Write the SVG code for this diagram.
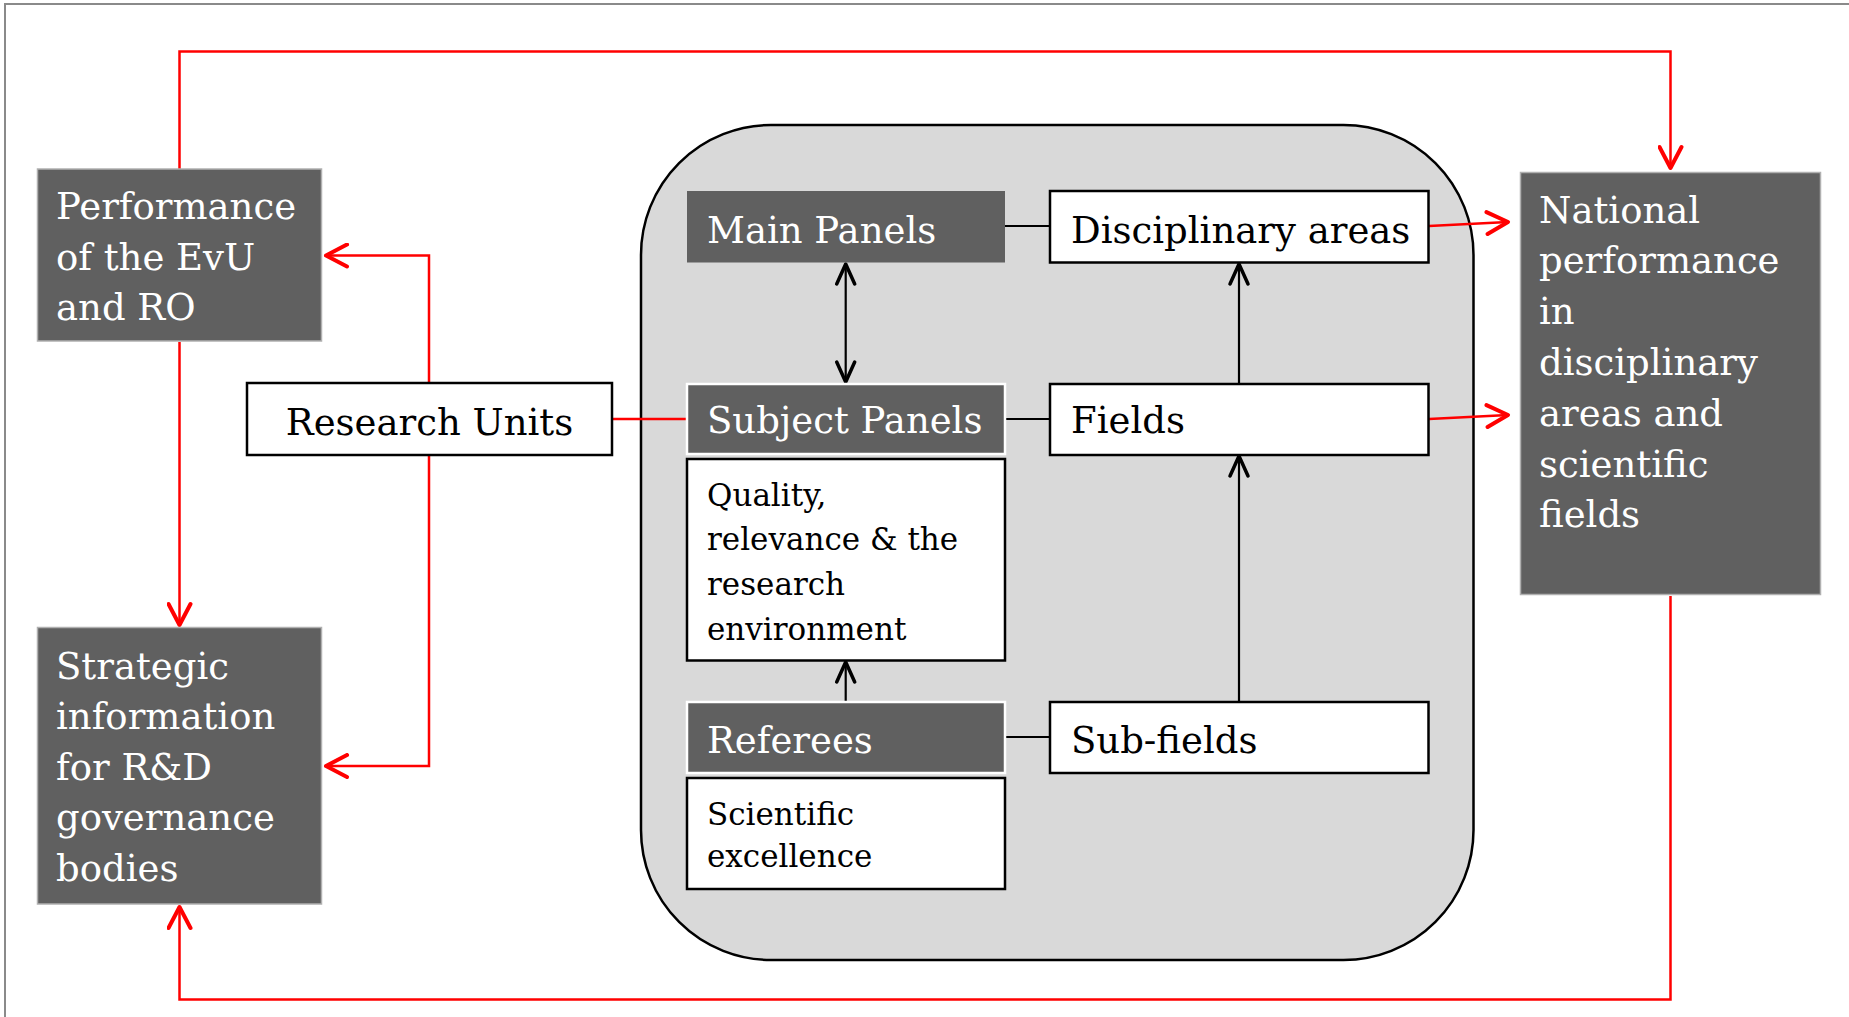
<svg xmlns="http://www.w3.org/2000/svg" width="1849" height="1017" viewBox="0 0 1849 1017">
<style>
.dark{fill:#606060;stroke:#b0b0b0;stroke-width:1.5}
.darkw{fill:#606060;stroke:#ffffff;stroke-width:2.5}
.white{fill:#ffffff;stroke:#000000;stroke-width:2.5}
.tw{font-family:"DejaVu Serif",serif;font-size:37px;fill:#ffffff}
.tb{font-family:"DejaVu Serif",serif;font-size:37px;fill:#000000}
.ts{font-family:"DejaVu Serif",serif;font-size:31px;fill:#000000}
.red{fill:none;stroke:#ff0000;stroke-width:2.5}
.blk{fill:none;stroke:#000000;stroke-width:2.2}
</style>
<defs>
<marker id="ar" markerUnits="userSpaceOnUse" viewBox="-24 -13 28 26" refX="0" refY="0" markerWidth="28" markerHeight="26" orient="auto">
<path d="M-21,-11 L0,0 L-21,11" fill="none" stroke="#ff0000" stroke-width="4" stroke-linecap="round" stroke-linejoin="round"/>
</marker>
<marker id="ab" markerUnits="userSpaceOnUse" viewBox="-24 -13 28 26" refX="0" refY="0" markerWidth="28" markerHeight="26" orient="auto-start-reverse">
<path d="M-20,-9 L0,0 L-20,9" fill="none" stroke="#000000" stroke-width="3.5" stroke-linecap="round" stroke-linejoin="round"/>
</marker>
</defs>
<rect x="0" y="0" width="1849" height="1017" fill="#ffffff"/>
<path d="M5,1017 V4 H1849" fill="none" stroke="#8a8a8a" stroke-width="2"/>
<g id="container">
<rect x="641" y="125" width="832.5" height="835" rx="130" ry="130" fill="#d9d9d9" stroke="#000000" stroke-width="2.5"/>
</g>
<g id="connectors">
<path class="red" d="M179.5,169 V51.5 H1670.5 V168" marker-end="url(#ar)"/>
<path class="red" d="M179.5,342 V625" marker-end="url(#ar)"/>
<path class="red" d="M1670.5,596 V999.5 H179.5 V907" marker-end="url(#ar)"/>
<path class="red" d="M429,383 V255.5 H326" marker-end="url(#ar)"/>
<path class="red" d="M429,455 V766 H326" marker-end="url(#ar)"/>
<path class="red" d="M612,419 H687"/>
<path class="red" d="M1429,226 L1508,222" marker-end="url(#ar)"/>
<path class="red" d="M1429,419 L1508,415" marker-end="url(#ar)"/>
<path class="blk" d="M845.7,264 V382" marker-start="url(#ab)" marker-end="url(#ab)"/>
<path class="blk" d="M1005,226 H1050"/>
<path class="blk" d="M1005,419 H1050"/>
<path class="blk" d="M1005,737 H1050"/>
<path class="blk" d="M1239,384 V264" marker-end="url(#ab)"/>
<path class="blk" d="M1239,702 V456" marker-end="url(#ab)"/>
<path class="blk" d="M845.7,702 V662" marker-end="url(#ab)"/>
</g>
<g id="performance">
<rect class="dark" x="37.5" y="169" width="284" height="172"/>
<text class="tw" x="56" y="219">Performance</text>
<text class="tw" x="56" y="269.5">of the EvU</text>
<text class="tw" x="56" y="320">and RO</text>
</g>
<g id="strategic">
<rect class="dark" x="37.5" y="627.5" width="284" height="276.5"/>
<text class="tw" x="56" y="678.5">Strategic</text>
<text class="tw" x="56" y="729">information</text>
<text class="tw" x="56" y="779.5">for R&amp;D</text>
<text class="tw" x="56" y="830">governance</text>
<text class="tw" x="56" y="880.5">bodies</text>
</g>
<g id="research-units">
<rect class="white" x="247" y="383" width="365" height="72"/>
<text class="tb" x="429.5" y="435" text-anchor="middle">Research Units</text>
</g>
<g id="national">
<rect class="dark" x="1520.5" y="172.5" width="300" height="422"/>
<text class="tw" x="1539" y="222.5">National</text>
<text class="tw" x="1539" y="273.3">performance</text>
<text class="tw" x="1539" y="324.1">in</text>
<text class="tw" x="1539" y="374.9">disciplinary</text>
<text class="tw" x="1539" y="425.7">areas and</text>
<text class="tw" x="1539" y="476.5">scientific</text>
<text class="tw" x="1539" y="527.3">fields</text>
</g>
<g id="main-panels">
<rect x="687" y="191" width="318" height="71.5" fill="#606060"/>
<text class="tw" x="707" y="243">Main Panels</text>
</g>
<g id="disciplinary-areas">
<rect class="white" x="1050" y="191" width="378.5" height="71.5"/>
<text class="tb" x="1071" y="243">Disciplinary areas</text>
</g>
<g id="subject-panels">
<rect class="darkw" x="687" y="384" width="318" height="70"/>
<text class="tw" x="707" y="433">Subject Panels</text>
</g>
<g id="fields">
<rect class="white" x="1050" y="384" width="378.5" height="71"/>
<text class="tb" x="1071" y="433">Fields</text>
</g>
<g id="quality">
<rect class="white" x="687" y="459" width="318" height="201.5"/>
<text class="ts" x="707" y="506">Quality,</text>
<text class="ts" x="707" y="550">relevance &amp; the</text>
<text class="ts" x="707" y="595">research</text>
<text class="ts" x="707" y="640">environment</text>
</g>
<g id="referees">
<rect class="darkw" x="687" y="702" width="318" height="71"/>
<text class="tw" x="707" y="753">Referees</text>
</g>
<g id="sub-fields">
<rect class="white" x="1050" y="702" width="378.5" height="71"/>
<text class="tb" x="1071" y="753">Sub-fields</text>
</g>
<g id="scientific-excellence">
<rect class="white" x="687" y="778" width="318" height="111"/>
<text class="ts" x="707" y="825">Scientific</text>
<text class="ts" x="707" y="867">excellence</text>
</g>
</svg>
